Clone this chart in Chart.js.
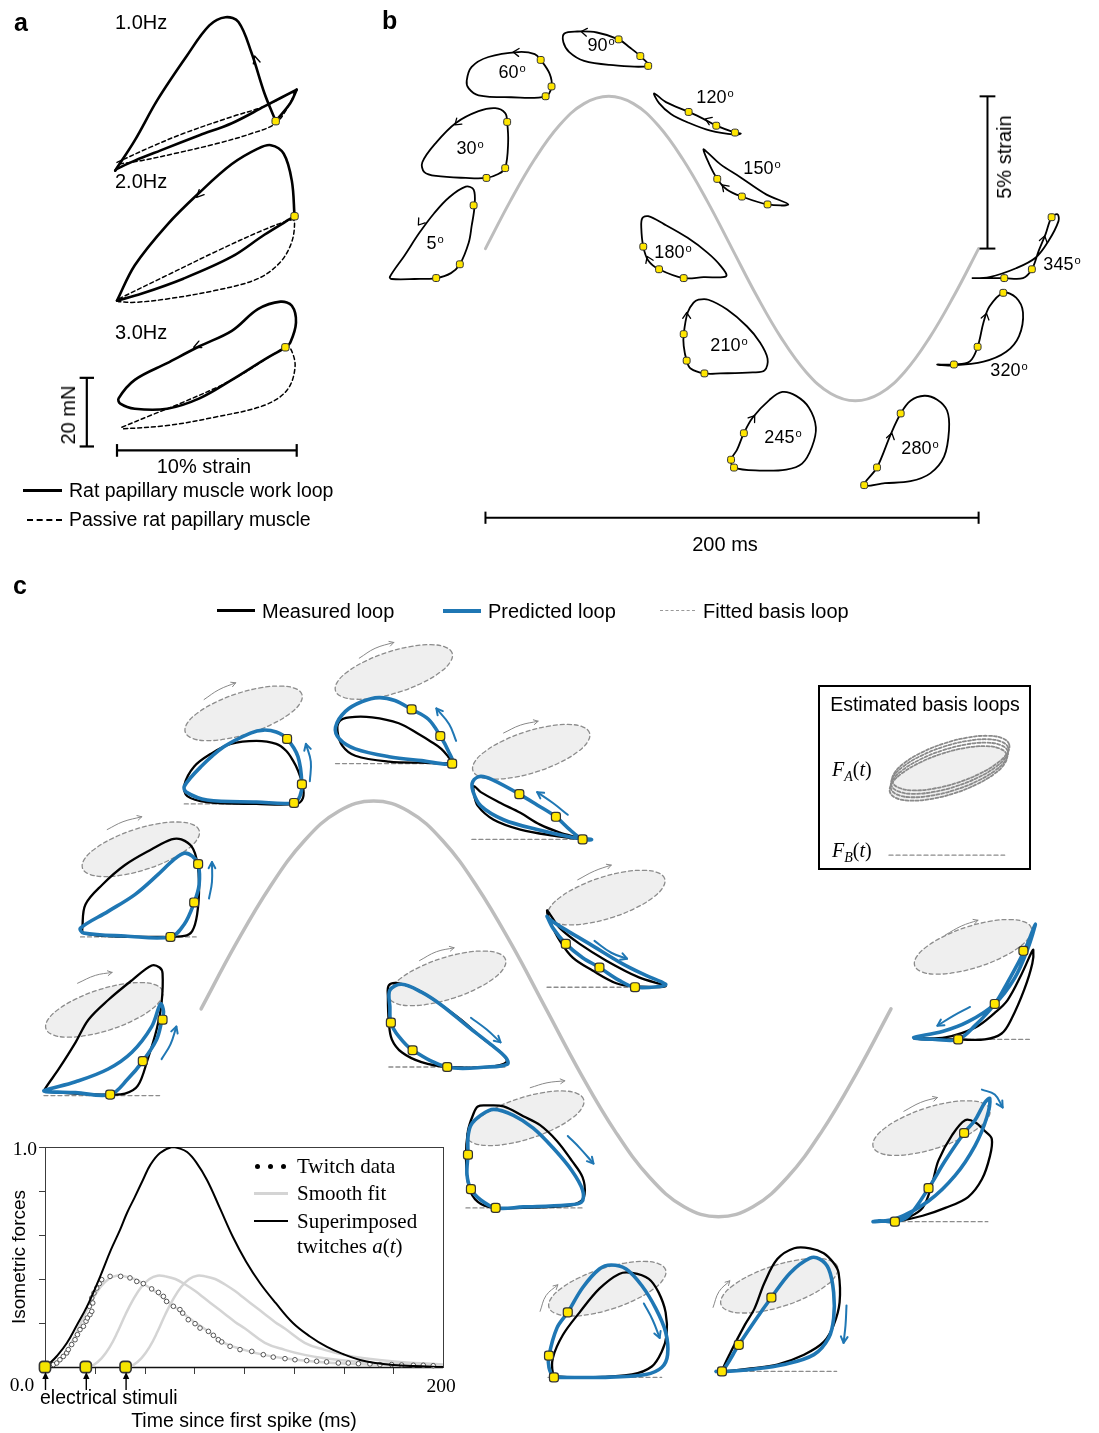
<!DOCTYPE html>
<html lang="en">
<head>
<meta charset="utf-8">
<title>Cardiac work loops</title>
<script src="https://cdn.jsdelivr.net/npm/chart.js@4.4.1/dist/chart.umd.min.js"></script>
<style>
  html, body { margin:0; padding:0; background:#fff; }
  #fig { position:relative; width:1099px; height:1433px; overflow:hidden; background:#fff;
         font-family:"Liberation Sans", Arial, Helvetica, sans-serif; color:#000; }
  #fig canvas { position:absolute; }
  .t { position:absolute; white-space:nowrap; line-height:1; }
  .serif { font-family:"Liberation Serif", "Times New Roman", serif; }
  .sw { position:absolute; height:0; }
  .dot { position:absolute; width:5px; height:5px; border-radius:50%; background:#000; }
  .box { position:absolute; border:2px solid #000; box-sizing:border-box; }
</style>
</head>
<body>
<div id="fig"></div>
<script>
// ================= data =================

// one 200 ms cycle of imposed strain (%)
const cycleTime   = [0,10,20,30,40,50,60,70,80,90,100,110,120,130,140,150,160,170,180,190,200];
const cycleStrain = [0,1.55,2.94,4.05,4.76,5,4.76,4.05,2.94,1.55,0,-1.55,-2.94,-4.05,-4.76,-5,-4.76,-4.05,-2.94,-1.55,0];

// ---- panel a: rat papillary muscle loops (strain %, force mN) ----
const rateLabels = ['1.0Hz', '2.0Hz', '3.0Hz'];
const hz1Active = [
  [[-0.1,0.1],[0.99,8.9],[2.25,20.7],[3.88,33.5],[5.14,42.4],[6.04,44.8],[6.76,43.4],[7.48,34.5],[8.2,22.7],[8.83,14.5]],
  [[8.83,14.5],[9.64,19.7],[10.0,23.7]],
  [[10.0,23.7],[8.2,18.8],[6.39,13.9],[4.59,10.4],[2.43,6.0],[0.99,3.0],[0,0.6],[-0.1,0.1]]
];
const hz1Passive = [
  [[0,2.5],[1.89,7.0],[3.69,10.9],[6.39,15.8],[8.2,18.8],[9.82,22.9],[9.62,19.7],[8.83,13.9],[7.48,10.9],[5.5,7.9],[3.15,5.0],[1.35,3.0],[0.09,2.0]]
];
const hz2Active = [
  [[0,-0.1],[0.99,10.2],[2.79,22.0],[4.59,31.4],[6.39,39.7],[7.84,44.2],[8.56,45.2],[9.28,42.7],[9.73,34.8],[9.88,24.5]],
  [[9.88,24.5],[8.2,19.1],[6.39,12.7],[3.69,6.3],[1.35,1.9],[0,-0.1]]
];
const hz2Passive = [
  [[0.09,0.4],[2.79,7.3],[5.5,14.2],[8.2,20.6],[9.73,23.5],[9.88,23.0],[9.73,17.1],[9.1,11.2],[7.84,6.3],[5.5,2.9],[2.79,0.4],[0.99,-0.6],[0.09,-0.4]]
];
const hz3Active = [
  [[0.09,3.1],[0.99,8.5],[2.79,13.4],[4.59,18.3],[6.39,22.8],[7.84,29.1],[9.1,31.3],[9.73,30.1],[9.96,25.2],[9.64,19.3],[9.37,18.0],[8.2,14.4],[6.39,8.5],[4.59,3.1],[2.79,0.1],[0.99,0.1],[0.18,1.6]]
];
const hz3Passive = [
  [[0.27,-5.3],[1.89,-1.8],[3.51,1.6],[6.39,8.5],[9.37,18.0],[9.64,17.8],[9.91,12.4],[9.46,5.5],[8.2,1.1],[5.5,-2.3],[2.79,-4.8],[0.27,-5.8]]
];
const rateStimulus = [[8.83,14.5],[9.88,24.5],[9.37,18.0]];
const rateDirection = [[[7.89,29.4],[7.66,33.5]], [[4.97,32.9],[4.43,30.0]], [[4.86,19.4],[4.27,18.0]]];
const forceBar = 20;   // mN
const strainBar = 10;  // %

// ---- panel b: loops at twelve stimulation phases (local strain / force units) ----
const bPhases = ['5', '30', '60', '90', '120', '150', '180', '210', '245', '280', '320', '345'];
const bLoops = [
  [[0,0.2],[1.5,2.4],[3,4.7],[4.5,6.7],[6,8.3],[7.7,9.4],[8.5,9.1],[8.6,7.5],[8.3,5.4],[8,3.7],[7.1,1.5],[6.2,0.6],[4.7,0.1],[2.5,0],[0.2,0]],
  [[0,1.6],[1.4,3.6],[3.4,5.6],[5.7,6.8],[7.4,7.1],[8.4,6.6],[8.6,5.7],[8.7,3.6],[8.4,1.0],[7.7,0.4],[6.5,0],[4.4,0],[1.4,0.2],[0.2,0.6]],
  [[0,1.7],[0.5,3.1],[2.2,4.1],[5.2,4.6],[6.9,4.4],[7.5,3.8],[8.4,2.4],[8.6,1.1],[8,0.1],[4.5,0],[1.2,0.2],[0.2,0.9]],
  [[0.1,3.3],[1.4,3.5],[3.4,3.4],[5.6,2.7],[6.7,1.9],[7.8,1.0],[8.6,0],[4.7,0.1],[2.1,0.5],[0.6,1.4],[0,2.4]],
  [[0,4.0],[1.2,3.1],[3.5,2.1],[5,1.4],[6.3,0.7],[8.2,0],[8.8,-0.1],[8.2,-0.2],[5.7,0.2],[3.5,1.0],[1.7,1.9],[0.5,3.0]],
  [[0,5.6],[0.5,4.3],[1.4,2.6],[2.4,1.5],[3.9,0.8],[6.5,0],[8.6,0],[6.4,1.0],[3.7,2.8],[1.7,4.1],[0.4,5.3]],
  [[0.1,6.1],[0.7,6.3],[2.3,5.5],[4.7,4.1],[6.7,2.6],[8,1.3],[8.6,0.2],[6.3,0.1],[4.3,0],[1.8,0.9],[0.7,1.8],[0.2,3.2],[0,5.1]],
  [[1.5,7.5],[2.5,7.5],[4.4,6.5],[6.4,4.8],[7.7,3.2],[8.5,1.5],[8.2,0.3],[7,0.1],[3.7,0],[2.1,0],[0.7,0.5],[0.3,1.3],[0,2.8],[0,4.0],[0.4,6.2],[1,7.2]],
  [[0,1.1],[0.3,0.3],[2.9,0],[5.6,0.1],[7.2,0.7],[8.2,2.4],[8.6,4.4],[7.9,6.4],[6.6,7.6],[5.2,8.0],[3.9,7.2],[2.2,5.4],[1.3,3.8],[0.6,2.1]],
  [[0,0],[1.3,1.8],[2.7,5.2],[3.7,7.3],[4.7,8.6],[6.1,9.1],[7.4,8.7],[8.4,7.6],[8.6,5.6],[8.1,2.9],[6.7,1.2],[4.7,0.4],[2.1,0.2]],
  [[0,0.1],[1.7,0.1],[3.3,0.4],[4.1,1.9],[4.7,4.4],[5.3,6.0],[6.7,7.4],[8,6.9],[8.7,5.4],[8.3,3.0],[7,1.4],[4.7,0.4],[1.3,0]],
  [[0,0],[3.2,0],[5.1,0],[6.0,0.9],[6.7,2.8],[7.4,4.5],[8.0,6.2],[8.6,6.5],[8.7,5.8],[7.7,3.8],[6.4,2.1],[4.4,1.0],[1.7,0.1]]
];
const bStimuli = [
  [[8.5,7.5],[7.1,1.5],[4.7,0.1]], [[8.6,5.7],[8.4,1.0],[6.5,0]], [[7.5,3.8],[8.6,1.1],[8,0.1]],
  [[5.6,2.7],[7.8,1.0],[8.6,0]], [[3.5,2.1],[6.3,0.7],[8.2,0]], [[1.4,2.6],[3.9,0.8],[6.5,0]],
  [[4.3,0],[1.8,0.9],[0.2,3.2]], [[2.1,0],[0.3,1.3],[0,4.0]], [[0,1.1],[0.3,0.3],[1.3,3.8]],
  [[0,0],[1.3,1.8],[3.7,7.3]], [[1.7,0.1],[4.1,1.9],[6.7,7.4]], [[3.2,0],[6.0,0.9],[8.0,6.2]]
];
const bDirection = [
  [[3.5,6.3],[2.9,5.5]], [[4.0,6.0],[3.3,5.4]], [[5.5,4.55],[4.7,4.6]], [[2.6,3.4],[1.8,3.5]],
  [[5.9,1.1],[5.2,1.4]], [[2.5,1.4],[1.9,2.0]], [[0.9,1.5],[0.6,2.2]], [[0.3,5.4],[0.3,6.2]],
  [[1.9,4.9],[2.4,5.6]], [[2.6,4.5],[2.8,5.3]], [[4.8,4.5],[5.0,5.3]], [[7.1,3.5],[7.3,4.3]]
];
const timeBar = 200;   // ms
const cycleBar = 5;    // % strain

// ---- panel c: measured vs predicted loops (local strain / force units) ----
const basisLoop = [[5.90,1.92],[5.20,2.53],[3.71,2.77],[1.66,2.58],[-0.65,2.00],[-2.86,1.11],[-4.63,0.06],[-5.70,-1.00],
                   [-5.90,-1.92],[-5.20,-2.53],[-3.71,-2.77],[-1.66,-2.58],[0.65,-2.00],[2.86,-1.11],[4.63,-0.06],[5.70,1.00]];
const cMeasured = [
  [[0,0.5],[1.5,2.7],[3.2,5.4],[4.5,7.7],[6.5,9.7],[8.9,11.7],[10.9,13.2],[11.7,13.0],[12,12.4],[11.9,9.4],[11.4,6.7],[10.5,3.7],[9.5,1.0],[8.2,0.2],[6.5,0.1],[3.2,0.2],[0.2,0.4]],
  [[0.2,1.1],[0.5,3.3],[2.2,5.3],[4.5,7.3],[7.2,8.9],[9.2,9.9],[10.2,9.9],[11.3,9.1],[11.8,7.6],[12,5.3],[11.8,2.3],[11.3,0.6],[10.5,0.1],[7.8,0],[2.8,0.1],[0.3,0.4]],
  [[0,1.9],[1,3.8],[2.7,5.1],[4.7,6.1],[7.3,6.4],[9.3,6.1],[10.3,5.4],[11,4.4],[11.5,3.4],[12,1.8],[12,0.6],[11.3,0],[7.3,0],[2.3,0.2],[0.3,0.8]],
  [[0.4,4.3],[1.4,4.7],[3.7,4.7],[6.4,4.1],[8.4,3.0],[9.7,2.2],[10.7,1.5],[11.4,0.7],[11.8,0.1],[8.7,0.1],[5.4,0.2],[2,0.8],[0.7,1.8],[0.2,3.3]],
  [[0.2,5.4],[0.9,4.8],[2.9,3.7],[4.9,2.7],[6.9,1.5],[8.9,0.7],[10.9,0.1],[8.2,0.4],[4.9,1.0],[2.2,2.0],[0.6,3.4],[0.2,4.7]],
  [[0,7.8],[0.3,6.7],[1.3,4.7],[2.6,3.0],[4.6,1.7],[7,0.4],[8.6,0.1],[12,0.1],[9.3,1.0],[6,2.7],[3.3,4.4],[1.3,6.0],[0.3,7.4]],
  [[0,8.3],[1,8.5],[3,7.8],[5,6.5],[7.3,4.8],[9.6,2.8],[11.3,1.5],[11.9,0.5],[10,0],[6,0],[3.3,0.5],[1.3,1.5],[0.3,2.8],[0,4.5],[-0.1,7.1]],
  [[0.7,9.4],[1.2,10.3],[2.2,10.4],[3.8,10.3],[5.8,9.3],[7.5,8.4],[9.2,6.8],[10.7,4.8],[11.8,3.1],[12,1.4],[11.5,0.6],[10.2,0.2],[5.8,0],[2.8,0],[1.2,0.6],[0.3,2.1],[0,5.1],[0.2,7.8]],
  [[0.5,0.4],[0.5,2.0],[1.5,4.3],[3.2,6.6],[5.2,9.0],[7.2,10.5],[8.5,10.6],[10.2,10],[11.2,8.6],[11.9,6.6],[12,4.3],[11.5,2.6],[10.5,1.1],[8.5,0.3],[3.9,0],[0.9,0.1]],
  [[0.7,0],[1.6,2.0],[3,4.7],[4,6.4],[5,9],[6.3,11.4],[8,12.5],[9.6,12.5],[11,12],[12,11],[12.5,10],[12.6,7],[12,4.7],[11,3.0],[9,1.7],[6.3,0.7],[3.6,0.3],[1,0]],
  [[2.3,0],[5,0.6],[7.3,1.4],[9.6,2.5],[11,4.3],[11.8,6.6],[12,8.4],[11.3,9.2],[10.3,10.1],[9.3,10.3],[8,8.8],[6.6,6.2],[6,4],[5,1.4],[3.3,0.3]],
  [[0.2,0.1],[3.2,0.2],[6.2,1.2],[8.2,2.7],[9.5,4.0],[10.9,6.6],[11.9,8.8],[12.1,9.1],[12,7.7],[11.2,5.1],[9.9,2.1],[8.9,0.6],[7.2,0],[4.5,0],[1.5,0]]
];
const cPredicted = [
  [[0,0.5],[3.2,1.4],[6.5,2.7],[8.9,4.4],[10.9,7.0],[11.8,9.3],[12.1,8.5],[11.9,7.5],[11.4,5.7],[10,3.5],[8.5,1.7],[6.7,0.1],[3.2,0.3],[0.2,0.4]],
  [[0,0.9],[2.8,2.6],[5.5,4.3],[7.8,6.3],[9.5,7.9],[10.5,8.5],[11.3,8.2],[11.9,7.4],[12,5.3],[11.5,3.5],[10.5,1.3],[9.1,0],[4.5,0.1],[0.3,0.4]],
  [[0,1.8],[1.7,3.8],[4,5.8],[6.7,7.2],[8,7.5],[9.3,7.3],[10.4,6.6],[11.5,4.8],[11.9,2.0],[11.7,0.8],[11.1,0.1],[7.3,0.2],[2.3,0.4],[0.2,1.2]],
  [[0,3.7],[1,5.3],[2.7,6.3],[4.4,6.7],[6,6.4],[7.7,5.5],[9.4,4.5],[10.6,2.8],[11.4,1.3],[11.8,0],[8.7,0.3],[5.4,0.7],[2,1.5],[0.4,2.5]],
  [[0.1,5.9],[0.9,6.4],[2.2,6.0],[4.8,4.6],[6.6,3.5],[8.5,2.3],[9.9,1.0],[11.2,0],[12.1,0],[10.2,0.2],[6.6,1.0],[3.2,2.0],[0.9,3.4],[0.1,4.9]],
  [[0,7.2],[0.6,6.0],[1.9,4.4],[3.6,3.0],[5.3,2.0],[7.3,0.7],[8.9,0],[11.6,0.1],[12,0.3],[10,1.2],[7.6,2.4],[4.3,4.4],[1.6,6.0],[0.1,7.0]],
  [[0.1,7.8],[1.3,8.4],[3.3,7.6],[5.3,6.3],[8,4.1],[10.3,2.3],[11.8,1.0],[12,0.3],[10,0],[5.9,0],[2.4,1.7],[1,3.1],[0.2,4.5],[0.1,6.1]],
  [[0.2,7.1],[0.5,8.4],[1.5,9.4],[2.8,10],[4.8,9.4],[6.8,8.1],[8.8,6.1],[10.7,3.8],[11.8,1.8],[11.7,0.6],[10.2,0.3],[5.8,0.1],[3,0],[1.5,0.8],[0.5,1.9],[0.1,3.4],[0.2,5.4]],
  [[0.6,0],[0.1,1.0],[0.1,2.2],[0.9,5.0],[2,6.6],[3.5,9.1],[5.2,11],[6.4,11.4],[7.9,11],[9.5,9.3],[10.9,7],[11.9,4.6],[12.1,2.3],[11.5,1.0],[9.9,0.3],[5.5,0],[1.2,0]],
  [[0.1,0],[0.7,0],[2.4,2.7],[4,5.1],[5.7,7.5],[7.6,10],[9.6,11.5],[10.6,11.4],[11.5,10.4],[12,8],[12,5.4],[11.5,3.4],[10,1.7],[7,0.7],[3.6,0.2],[1,0]],
  [[0,0],[2.3,0.3],[5.6,2.1],[8.3,4.7],[10.3,7.7],[11.5,10.6],[11.8,12.5],[11.3,12.1],[10.3,10.3],[9.2,9],[7.3,6.2],[5.6,3.4],[3.6,0.6],[2.2,0],[0.6,0.1]],
  [[0,0.2],[2.9,0.8],[5.5,1.8],[8.2,3.6],[10.2,6.2],[11.5,9.1],[12.3,11.7],[11.2,9.0],[9.5,5.8],[8.2,3.6],[6.2,1.4],[4.5,0],[2.2,0]]
];
const cStimuli = [
  [[12,7.7],[10,3.5],[6.7,0.1]], [[11.9,7.4],[11.5,3.5],[9.1,0]], [[10.4,6.6],[11.9,2.0],[11.1,0.1]],
  [[7.7,5.5],[10.6,2.8],[11.8,0]], [[4.8,4.6],[8.5,2.3],[11.2,0]], [[1.9,4.4],[5.3,2.0],[8.9,0]],
  [[5.9,0],[2.4,1.7],[0.2,4.5]], [[3,0],[0.5,1.9],[0.2,5.4]], [[0.6,0],[0.1,2.2],[2,6.6]],
  [[0.7,0],[2.4,2.7],[5.7,7.5]], [[9.2,9],[5.6,3.4],[2.2,0]], [[11.1,9.0],[8.2,3.6],[4.5,0]]
];

// ---- panel c inset: isometric twitches ----
const stimulusTimes = [0, 20.5, 40.5];
const twitchT = [4.2,5.9,7.5,9.2,10.9,11.7,13.4,15.1,16.3,17.6,19.3,20.6,21.3,22.6,23.5,22.3,24.0,23.5,24.6,26.0,27.3,28.5,
                 32.7,38.0,42.7,46.1,49.4,53.6,57.0,59.5,61.1,64.5,67.8,69.2,72.0,75.4,77.9,82.1,84.6,87.1,88.8,93.0,98.0,
                 103.9,109.7,114.7,120.6,125.6,131.5,136.5,141.5,147.4,152.4,157.5,163.3,168.3,174.2,179.2,185.1,190.1,195.1];
const twitchF = [0.011,0.018,0.033,0.048,0.064,0.079,0.102,0.124,0.147,0.170,0.185,0.208,0.223,0.238,0.253,0.276,0.291,0.314,0.336,0.359,0.379,0.397,
                 0.412,0.412,0.405,0.389,0.379,0.355,0.339,0.321,0.298,0.276,0.261,0.245,0.215,0.197,0.177,0.162,0.144,0.124,0.114,0.094,0.079,
                 0.071,0.056,0.045,0.038,0.033,0.029,0.026,0.023,0.018,0.018,0.015,0.014,0.011,0.011,0.009,0.008,0.008,0.006];
const fitT = [0,4,8,12,16,20,24,28,32,36,40,45,50,55,60,65,70,75,80,90,100,110,120,135,150,170,200];
const fitF = [0,0.01,0.04,0.09,0.16,0.24,0.31,0.365,0.40,0.415,0.412,0.40,0.375,0.345,0.31,0.275,0.24,0.205,0.175,0.11,0.078,0.055,0.04,0.025,0.016,0.008,0.003];
const sumT = [0,2.5,6,11,16,21,27.6,33,37.7,41.2,45,49.2,53,57.8,63.8,67,71.4,76,81.4,88,94.5,101,108,116,124.6,133,141.7,150,158.3,166,174.9,185,200];
const sumF = [0,0.018,0.05,0.109,0.19,0.273,0.409,0.53,0.623,0.70,0.77,0.85,0.92,0.973,1.0,0.995,0.977,0.93,0.85,0.72,0.59,0.48,0.382,0.29,0.2,0.14,0.091,0.058,0.032,0.018,0.009,0.004,0];
const twitchTicksX = [25,50,75,100,125,150,175];
const twitchTicksY = [0.2,0.4,0.6,0.8];

// ================= layout =================
const stackBase = [80.3, 42.6, 10.9];                  // panel a: baseline force of each stacked loop
const bAnchor = [[-38.8,-1.0],[-25.6,2.32],[-7.6,4.97],[31.6,6.0],[68.4,3.81],[88.4,1.45],
                 [63.2,-0.97],[80.4,-4.10],[99.6,-7.29],[153.6,-7.77],[183.2,-3.84],[197.6,-0.97]];
const bLabelAt = [[435,243],[470,148],[512,72],[601,45],[715,97],[762,168],[673,252],[729,345],[783,437],[920,448],[1009,370],[1062,264]];
const cAnchor = [[-45.56,-2.085],[-34.96,1.730],[-4.87,4.929],[38.97,5.900],[78.51,4.076],[100.29,0.521],
                 [54.44,-1.398],[76.79,-4.787],[100.57,-8.863],[149.00,-8.720],[194.84,-5.118],[206.59,-0.735]];
const cBaseLen = [11.7,11.7,11.3,11.9,11.2,12,11.8,12,11.5,12.3,11.6,11.7];
const cEllipseAt = [[6.1,8.7],[6.1,8.9],[6,9.2],[5.9,9.3],[6,8.9],[6,9.1],[5.9,9.0],[6,9.1],[6,9],[6.5,8.7],[5.9,9.5],[6,9.4]];
const cDrift = [
  [[3.4,11.4],[5.2,12.2],[6.9,12.5]], [[2.7,10.9],[4.3,11.7],[6.2,12.2]], [[2,10.6],[3.5,11.6],[5.2,12.3]],
  [[2.4,10.7],[4,11.7],[5.9,12.3]], [[3.2,10.8],[4.9,11.6],[6.7,12]], [[3.1,10.9],[4.8,11.8],[6.5,12.4]],
  [[3.1,10.8],[4.8,11.7],[6.6,12.1]], [[6.5,12.2],[8.2,12.7],[10,12.9]], [[-0.8,6.7],[-0.2,8.3],[1,9.4]],
  [[-0.2,6.5],[0.4,8.1],[1.5,9.2]], [[3.1,11.2],[4.8,12.1],[6.5,12.6]], [[3.2,10.6],[4.8,11.5],[6.5,12.1]]
];
const cFlow = [
  [[11.9,3.7],[12.8,5.2],[13.4,7.0]], [[13,3.9],[13.3,5.6],[13.3,7.6]], [[12.7,2.3],[12.8,4.3],[12.3,6.1]],
  [[12.2,2.3],[11.5,4.0],[10.2,5.6]], [[9.7,2.5],[8.2,3.7],[6.6,4.8]], [[4.8,4.7],[6.5,3.5],[8.1,2.9]],
  [[8.3,5],[9.9,3.8],[11.3,2.5]], [[10.3,7.3],[11.5,6.1],[12.9,4.5]], [[9.7,7.5],[10.6,5.8],[11.3,4.0]],
  [[13.3,6.7],[13.2,4.7],[13,2.9]], [[11,13.4],[12.3,12.9],[13.1,11.6]], [[5.7,3.3],[4,2.4],[2.4,1.4]]
];
const basisBoxAnchor = [199.43, 3.697];
const basisStack = [[6.0,8.3],[6.1,8.65],[6.15,9.0],[6.25,9.35]];

const BLUE = '#1f77b4';

// ================= helpers =================
const fig = document.getElementById('fig');

function canvasAt(left, top, w, h) {
  const c = document.createElement('canvas');
  c.width = w; c.height = h;
  Object.assign(c.style, {left: left + 'px', top: top + 'px', width: w + 'px', height: h + 'px'});
  fig.appendChild(c);
  return c;
}

function txt(html, x, y, o = {}) {
  const d = document.createElement('div');
  d.className = 't' + (o.serif ? ' serif' : '');
  d.innerHTML = html;
  const ax = o.anchor === 'l' ? '0%' : o.anchor === 'r' ? '-100%' : '-50%';
  d.style.left = x + 'px';
  d.style.top = y + 'px';
  d.style.fontSize = (o.size || 19) + 'px';
  if (o.bold) d.style.fontWeight = 'bold';
  if (o.color) d.style.color = o.color;
  d.style.transform = 'translate(' + ax + ',-50%)' + (o.rot ? ' rotate(' + o.rot + 'deg)' : '');
  fig.appendChild(d);
  return d;
}

function swatch(x, y, w, border) {
  const d = document.createElement('div');
  d.className = 'sw';
  d.style.left = x + 'px'; d.style.top = y + 'px'; d.style.width = w + 'px';
  d.style.borderTop = border;
  fig.appendChild(d);
}

const deg = s => s + '<span style="font-size:0.62em;position:relative;top:-0.5em;margin-left:1px">o</span>';
const xy = arr => arr.map(p => ({x: p[0], y: p[1]}));
const zip = (a, b) => a.map((v, i) => [v, b[i]]);
function place(arr, at, k, shift) {
  const s = shift || [0, 0];
  return arr.map(p => [at[0] + (p[0] + s[0]) * k[0], at[1] + (p[1] + s[1]) * k[1]]);
}
function lineDs(arr, o) {
  return Object.assign({data: xy(arr), showLine: true, pointRadius: 0, pointHoverRadius: 0, borderColor: '#000',
    borderWidth: 2, tension: 0.4, fill: false, clip: false, borderCapStyle: 'round', borderJoinStyle: 'round'}, o);
}
function dotDs(arr, o) {
  return Object.assign({data: xy(arr), showLine: false, pointRadius: 4, pointHoverRadius: 0, pointStyle: 'rectRounded',
    pointBackgroundColor: '#ffe600', pointBorderColor: '#333', pointBorderWidth: 1, clip: false}, o);
}
function markDs(arr, head) {
  return {data: xy(arr), showLine: false, pointRadius: 0, pointHoverRadius: 0, clip: false, head: head};
}

// closes the spline of datasets flagged `closed`
const closedLoops = {
  id: 'closedLoops',
  afterDatasetUpdate(chart, args) {
    const ds = chart.data.datasets[args.index];
    const line = args.meta && args.meta.dataset;
    if (ds && ds.closed && line) { line._loop = true; line._fullLoop = true; }
  }
};

// open arrowheads at the last point of datasets carrying `head`
const arrowHeads = {
  id: 'arrowHeads',
  afterDatasetsDraw(chart) {
    const ctx = chart.ctx, xs = chart.scales.x, ys = chart.scales.y;
    chart.data.datasets.forEach(ds => {
      if (!ds.head) return;
      const n = ds.data.length;
      const x1 = xs.getPixelForValue(ds.data[n - 1].x), y1 = ys.getPixelForValue(ds.data[n - 1].y);
      const x0 = xs.getPixelForValue(ds.data[n - 2].x), y0 = ys.getPixelForValue(ds.data[n - 2].y);
      const ang = Math.atan2(y1 - y0, x1 - x0);
      const L = ds.head.size, a = ds.head.spread || 0.5;
      ctx.save();
      ctx.strokeStyle = ds.head.color; ctx.lineWidth = ds.head.width;
      ctx.lineCap = 'round'; ctx.lineJoin = 'round';
      ctx.beginPath();
      ctx.moveTo(x1 - L * Math.cos(ang - a), y1 - L * Math.sin(ang - a));
      ctx.lineTo(x1, y1);
      ctx.lineTo(x1 - L * Math.cos(ang + a), y1 - L * Math.sin(ang + a));
      ctx.stroke();
      ctx.restore();
    });
  }
};

function figureChart(canvas, xr, yr, datasets, padding, extraPlugins) {
  datasets.forEach((d, i) => { d.order = -i; });
  return new Chart(canvas, {
    type: 'line',
    data: {datasets: datasets},
    options: {
      responsive: false, maintainAspectRatio: false, animation: false, events: [], devicePixelRatio: 1,
      layout: {padding: padding || 0},
      plugins: {legend: {display: false}, tooltip: {enabled: false}},
      scales: {
        x: {type: 'linear', display: false, min: xr[0], max: xr[1]},
        y: {type: 'linear', display: false, min: yr[0], max: yr[1]}
      }
    },
    plugins: [closedLoops, arrowHeads].concat(extraPlugins || [])
  });
}

// ================= panel a =================
(function () {
  const ds = [];
  const active = [hz1Active, hz2Active, hz3Active];
  const passive = [hz1Passive, hz2Passive, hz3Passive];
  const k = [1, 1];
  active.forEach((paths, i) => {
    const at = [0, stackBase[i]];
    passive[i].forEach(p => ds.push(lineDs(place(p, at, k), {borderWidth: 1.5, borderDash: [4, 3], tension: 0.35})));
    paths.forEach(p => ds.push(lineDs(place(p, at, k), {borderWidth: 2.6, tension: 0.35, closed: paths.length === 1})));
    ds.push(markDs(place(rateDirection[i], at, k), {size: 8, spread: 0.45, color: '#000', width: 1.4}));
    ds.push(dotDs(place([rateStimulus[i]], at, k), {pointRadius: 4.3}));
  });
  // scale bars
  ds.push(lineDs([[-1.68, 0], [-1.68, forceBar]], {borderWidth: 2.2, tension: 0, borderCapStyle: 'butt'}));
  ds.push(lineDs([[-2.08, 0], [-1.28, 0]], {borderWidth: 2.2, tension: 0, borderCapStyle: 'butt'}));
  ds.push(lineDs([[-2.08, forceBar], [-1.28, forceBar]], {borderWidth: 2.2, tension: 0, borderCapStyle: 'butt'}));
  ds.push(lineDs([[0, -1.14], [strainBar, -1.14]], {borderWidth: 2.2, tension: 0, borderCapStyle: 'butt'}));
  ds.push(lineDs([[0, -3.0], [0, 0.7]], {borderWidth: 2.2, tension: 0, borderCapStyle: 'butt'}));
  ds.push(lineDs([[strainBar, -3.0], [strainBar, 0.7]], {borderWidth: 2.2, tension: 0, borderCapStyle: 'butt'}));
  figureChart(canvasAt(0, 0, 370, 540), [-6.216, 13.784], [-25.714, 128.571], ds);

  txt('a', 14, 22, {anchor: 'l', size: 25, bold: true});
  txt(rateLabels[0], 115, 22, {anchor: 'l', size: 20});
  txt(rateLabels[1], 115, 181, {anchor: 'l', size: 20});
  txt(rateLabels[2], 115, 332, {anchor: 'l', size: 20});
  txt(forceBar + ' mN', 68, 415, {size: 20, rot: -90});
  txt(strainBar + '% strain', 204, 466, {size: 20});
  swatch(23, 489, 39, '3px solid #000');
  txt('Rat papillary muscle work loop', 69, 491, {anchor: 'l', size: 19.5});
  swatch(27, 519, 35, '2px dashed #000');
  txt('Passive rat papillary muscle', 69, 520, {anchor: 'l', size: 19.5});
})();

// ================= panel b =================
(function () {
  const k = [4, 10 / 31];
  const ds = [];
  ds.push(lineDs(zip(cycleTime, cycleStrain), {borderColor: '#bdbdbd', borderWidth: 3, tension: 0.4}));
  bLoops.forEach((shape, i) => {
    const at = bAnchor[i];
    ds.push(lineDs(place(shape, at, k), {borderWidth: 1.8, tension: 0.35, closed: true}));
    ds.push(markDs(place(bDirection[i], at, k), {size: 7, spread: 0.6, color: '#000', width: 1.3}));
    ds.push(dotDs(place(bStimuli[i], at, k), {pointRadius: 4, pointBorderWidth: 1}));
  });
  const cap = 'butt';
  ds.push(lineDs([[203.6, 0], [203.6, cycleBar]], {borderWidth: 2, tension: 0, borderCapStyle: cap}));
  ds.push(lineDs([[200.4, 0], [206.8, 0]], {borderWidth: 2, tension: 0, borderCapStyle: cap}));
  ds.push(lineDs([[200.4, cycleBar], [206.8, cycleBar]], {borderWidth: 2, tension: 0, borderCapStyle: cap}));
  ds.push(lineDs([[0, -8.84], [timeBar, -8.84]], {borderWidth: 2, tension: 0, borderCapStyle: cap}));
  ds.push(lineDs([[0, -9.04], [0, -8.64]], {borderWidth: 2, tension: 0, borderCapStyle: cap}));
  ds.push(lineDs([[timeBar, -9.04], [timeBar, -8.64]], {borderWidth: 2, tension: 0, borderCapStyle: cap}));
  figureChart(canvasAt(370, 0, 729, 560), [-44.8, 246.8], [-10.0645, 8.0], ds);

  txt('b', 382, 20, {anchor: 'l', size: 25, bold: true});
  bPhases.forEach((p, i) => txt(deg(p), bLabelAt[i][0], bLabelAt[i][1], {size: 18}));
  txt(cycleBar + '% strain', 1004, 157, {size: 20, rot: -90});
  txt(timeBar + ' ms', 725, 544, {size: 20});
})();

// ================= panel c =================
(function () {
  const k = [10 / 3.49, 10 / 42.2];
  const ds = [];
  ds.push(lineDs(zip(cycleTime, cycleStrain), {borderColor: '#bdbdbd', borderWidth: 3.5, tension: 0.4}));
  cMeasured.forEach((shape, i) => {
    const at = cAnchor[i];
    ds.push(lineDs(place(basisLoop, at, k, cEllipseAt[i]), {borderColor: '#8c8c8c', borderWidth: 1.3, borderDash: [4, 3],
      tension: 0.4, closed: true, fill: 'shape', backgroundColor: '#efefef'}));
    ds.push(lineDs(place([[0, 0], [cBaseLen[i], 0]], at, k), {borderColor: '#8c8c8c', borderWidth: 1.3, borderDash: [4, 3], tension: 0}));
    ds.push(lineDs(place(cDrift[i], at, k), {borderColor: '#888', borderWidth: 1, tension: 0.4,
      head: {size: 5, spread: 0.5, color: '#888', width: 1}}));
    ds.push(lineDs(place(shape, at, k), {borderColor: '#000', borderWidth: 2.3, tension: 0.35, closed: true}));
    ds.push(lineDs(place(cPredicted[i], at, k), {borderColor: BLUE, borderWidth: 3.6, tension: 0.35, closed: true}));
    ds.push(lineDs(place(cFlow[i], at, k), {borderColor: BLUE, borderWidth: 2, tension: 0.4,
      head: {size: 7, spread: 0.5, color: BLUE, width: 2}}));
    ds.push(dotDs(place(cStimuli[i], at, k), {pointRadius: 5.2, pointBorderWidth: 1.2}));
  });
  // estimated basis loops inset
  basisStack.forEach((c, j) => {
    ds.push(lineDs(place(basisLoop, basisBoxAnchor, k, c), {borderColor: '#8a8a8a', borderWidth: 1.8, borderDash: [3, 2],
      tension: 0.4, closed: true, fill: j === 0 ? 'shape' : false, backgroundColor: '#efefef'}));
  });
  ds.push(lineDs(place([[0, 0], [11.7, 0]], basisBoxAnchor, k), {borderColor: '#8c8c8c', borderWidth: 1.3, borderDash: [4, 3], tension: 0}));
  figureChart(canvasAt(0, 570, 1099, 863), [-56.447, 258.453], [-10.0474, 10.4028], ds);

  txt('c', 13, 585, {anchor: 'l', size: 25, bold: true});
  swatch(217, 609, 38, '3px solid #000');
  txt('Measured loop', 262, 611, {anchor: 'l', size: 20});
  swatch(443, 609, 38, '4px solid ' + BLUE);
  txt('Predicted loop', 488, 611, {anchor: 'l', size: 20});
  swatch(660, 610, 35, '1.5px dashed #999');
  txt('Fitted basis loop', 703, 611, {anchor: 'l', size: 20});

  const box = document.createElement('div');
  box.className = 'box';
  Object.assign(box.style, {left: '818px', top: '685px', width: '213px', height: '185px'});
  fig.appendChild(box);
  txt('Estimated basis loops', 925, 705, {size: 19.5});
  txt('<i>F</i><sub style="font-size:0.7em"><i>A</i></sub>(<i>t</i>)', 832, 771, {anchor: 'l', size: 20, serif: true});
  txt('<i>F</i><sub style="font-size:0.7em"><i>B</i></sub>(<i>t</i>)', 832, 852, {anchor: 'l', size: 20, serif: true});
})();

// ================= panel c inset: twitch superposition =================
(function () {
  const twitchFrame = {
    id: 'twitchFrame',
    beforeDatasetsDraw(chart) {
      const ctx = chart.ctx, a = chart.chartArea, x = chart.scales.x, y = chart.scales.y;
      ctx.save();
      ctx.strokeStyle = '#3c3c3c'; ctx.lineWidth = 1;
      ctx.strokeRect(Math.round(a.left) + 0.5, Math.round(a.top) + 0.5, Math.round(a.right - a.left), Math.round(a.bottom - a.top));
      ctx.beginPath();
      twitchTicksX.forEach(v => { const px = Math.round(x.getPixelForValue(v)) + 0.5; ctx.moveTo(px, a.bottom); ctx.lineTo(px, a.bottom + 7); });
      twitchTicksY.forEach(v => { const py = Math.round(y.getPixelForValue(v)) + 0.5; ctx.moveTo(a.left - 6, py); ctx.lineTo(a.left, py); });
      ctx.moveTo(a.left - 6, Math.round(a.top) + 0.5); ctx.lineTo(a.left, Math.round(a.top) + 0.5);
      ctx.stroke();
      ctx.strokeStyle = '#111'; ctx.lineWidth = 1.5;
      ctx.beginPath(); ctx.moveTo(a.left, Math.round(a.bottom) + 0.5); ctx.lineTo(a.right, Math.round(a.bottom) + 0.5); ctx.stroke();
      ctx.restore();
    },
    afterDatasetsDraw(chart) {
      const ctx = chart.ctx, a = chart.chartArea, x = chart.scales.x;
      ctx.save();
      ctx.strokeStyle = '#000'; ctx.fillStyle = '#000'; ctx.lineWidth = 1.4;
      stimulusTimes.forEach(t => {
        const px = x.getPixelForValue(t) + 0.5;
        ctx.beginPath(); ctx.moveTo(px, a.bottom + 23); ctx.lineTo(px, a.bottom + 10); ctx.stroke();
        ctx.beginPath(); ctx.moveTo(px, a.bottom + 5); ctx.lineTo(px - 3.2, a.bottom + 12); ctx.lineTo(px + 3.2, a.bottom + 12); ctx.closePath(); ctx.fill();
      });
      ctx.restore();
    }
  };
  const ds = [];
  stimulusTimes.forEach(t0 => {
    ds.push(lineDs(fitT.map((t, i) => [t0 + t, fitF[i]]), {borderColor: '#d4d4d4', borderWidth: 2.5, tension: 0.4, clip: undefined}));
  });
  ds.push({data: xy(zip(twitchT, twitchF)), showLine: false, pointRadius: 2.3, pointHoverRadius: 0, pointStyle: 'circle',
    pointBackgroundColor: '#fff', pointBorderColor: '#444', pointBorderWidth: 0.9, clip: false});
  ds.push(lineDs(zip(sumT, sumF), {borderColor: '#000', borderWidth: 2, tension: 0.4, clip: undefined}));
  ds.push(dotDs(stimulusTimes.map(t => [t, 0]), {pointRadius: 6.5, pointBorderWidth: 1.6, pointBackgroundColor: '#f5e400', pointBorderColor: '#333'}));
  figureChart(canvasAt(0, 1130, 470, 303), [0, 200], [0, 1.0], ds, {left: 45, right: 27, top: 17, bottom: 66}, [twitchFrame]);

  txt('1.0', 37, 1149, {anchor: 'r', size: 19.5, serif: true});
  txt('0.0', 22, 1385, {size: 19.5, serif: true});
  txt('200', 441, 1386, {size: 19.5, serif: true});
  txt('Isometric forces', 18, 1257, {size: 19, rot: -90});
  txt('electrical stimuli', 40, 1398, {anchor: 'l', size: 19.5});
  txt('Time since first spike (ms)', 244, 1421, {size: 19.5});

  [257, 270, 283].forEach(x => {
    const d = document.createElement('div');
    d.className = 'dot';
    d.style.left = (x - 2.5) + 'px'; d.style.top = (1166 - 2.5) + 'px';
    fig.appendChild(d);
  });
  swatch(254, 1191.5, 34, '3px solid #d4d4d4');
  swatch(254, 1220, 34, '2px solid #000');
  txt('Twitch data', 297, 1166, {anchor: 'l', size: 21, serif: true});
  txt('Smooth fit', 297, 1193, {anchor: 'l', size: 21, serif: true});
  txt('Superimposed', 297, 1221, {anchor: 'l', size: 21, serif: true});
  txt('twitches <i>a</i>(<i>t</i>)', 297, 1246, {anchor: 'l', size: 21, serif: true});
})();
</script>
</body>
</html>
